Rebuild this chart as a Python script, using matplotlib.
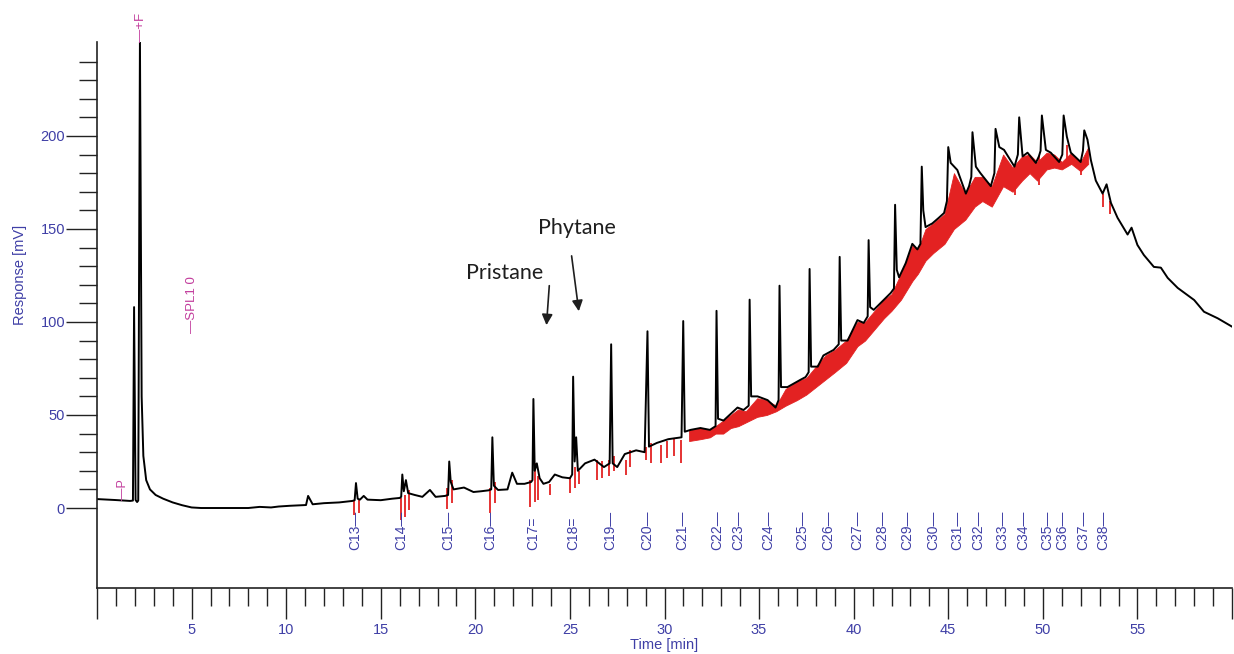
import matplotlib
matplotlib.use("Agg")
import matplotlib.pyplot as plt
import numpy as np

plt.rcParams['font.family'] = ['Liberation Sans', 'DejaVu Sans']

BLUE = '#3f3fa6'
PINK = '#c23c9c'
RED = '#e32222'

# chromatogram trace (time in min, response in mV)
time_min = [0, 0.95, 1.75, 1.90, 1.96, 2.04, 2.12, 2.18, 2.27, 2.36, 2.45, 2.6, 2.8, 3.1, 3.5,
            4.0, 4.5, 5.0, 5.5, 6.0, 8.0, 8.6, 9.2, 9.6, 10.2, 10.8, 11.05, 11.16, 11.4, 12.0,
            12.8, 13.5, 13.62, 13.69, 13.78, 13.9, 14.1, 14.3, 15.0, 15.6, 16.0, 16.08, 16.14,
            16.22, 16.33, 16.45, 16.8, 17.2, 17.6, 17.9, 18.4, 18.56, 18.62, 18.7, 18.85, 19.4,
            19.9, 20.3, 20.7, 20.84, 20.9, 20.98, 21.2, 21.7, 21.95, 22.2, 22.6, 22.95, 23.02,
            23.07, 23.14, 23.25, 23.4, 23.6, 23.9, 24.2, 24.6, 25.0, 25.12, 25.17, 25.25, 25.33,
            25.42, 25.8, 26.3, 26.8, 27.1, 27.18, 27.26, 27.5, 27.9, 28.5, 28.95, 29.1, 29.18,
            29.6, 30.2, 30.9, 30.99, 31.07, 31.38, 31.9, 32.4, 32.7, 32.75, 32.83, 33.12, 33.86,
            34.18, 34.45, 34.5, 34.58, 34.92, 35.45, 35.87, 36.03, 36.08, 36.16, 36.5, 37.2,
            37.46, 37.62, 37.67, 37.75, 38.1, 38.4, 38.94, 39.21, 39.26, 39.34, 39.68, 40.2,
            40.53, 40.74, 40.79, 40.87, 41.06, 41.6, 41.96, 42.13, 42.19, 42.28, 42.4, 42.75,
            43.1, 43.37, 43.53, 43.6, 43.68, 43.8, 44.16, 44.5, 44.78, 44.93, 45.0, 45.13,
            45.48, 45.93, 46.1, 46.22, 46.28, 46.46, 46.7, 47.25, 47.44, 47.5, 47.7, 47.95,
            48.5, 48.68, 48.75, 48.93, 49.19, 49.63, 49.79, 49.88, 49.95, 50.16, 50.42, 50.86,
            51.03, 51.1, 51.27, 51.48, 52.0, 52.12, 52.19, 52.36, 52.54, 52.8, 53.16, 53.37,
            53.6, 53.95, 54.48, 54.69, 55.0, 55.34, 55.87, 56.24, 56.6, 57.13, 58.0, 58.52,
            59.24, 60.0]
response_mv = [4.8, 4.3, 3.8, 4.0, 108, 4.3, 3.2, 4.0, 252, 60, 28, 15, 10, 7, 5,
               3, 1.5, 0.3, 0, 0, 0, 0.6, 0.3, 0.8, 1.2, 1.5, 1.6, 6.5, 2.0, 2.6,
               3.0, 3.8, 4.2, 13.4, 5.0, 4.5, 6.5, 4.5, 4.2, 5.0, 5.4, 6.0, 18.0,
               9.0, 15.0, 8.0, 7.0, 6.0, 9.7, 6.0, 6.5, 7.0, 25.0, 14.0, 10.0, 11.0,
               8.6, 9.0, 9.5, 10.0, 38.0, 12.0, 9.7, 10.0, 19.0, 13.0, 13.0, 14.0, 15.0,
               58.6, 20.0, 24.0, 16.0, 13.0, 14.0, 18.0, 16.5, 16.0, 18.0, 70.6, 25.0, 38.0,
               20.0, 24.0, 26.0, 22.0, 24.0, 88.0, 24.0, 22.0, 29.0, 31.0, 30.0, 95.0, 33.0,
               35.0, 37.0, 38.0, 100.5, 41.0, 42.0, 43.0, 42.0, 44.0, 106.0, 48.0, 47.0, 54.0,
               52.7, 55.0, 112.0, 60.0, 60.0, 58.0, 54.0, 58.0, 119.5, 65.0, 65.0, 69.0,
               70.4, 73.0, 128.5, 76.0, 76.0, 82.0, 85.0, 88.0, 135.0, 90.0, 90.0, 101.0,
               99.5, 103.0, 144.0, 108.0, 106.5, 112.0, 115.6, 118.0, 163.0, 128.0, 124.0, 131.6,
               142.0, 139.0, 142.0, 183.5, 160.0, 151.0, 153.0, 156.0, 158.6, 165.0, 194.0, 185.5,
               181.7, 169.0, 173.0, 178.0, 202.0, 183.5, 180.0, 173.0, 180.0, 203.8, 194.0, 192.5,
               183.5, 190.0, 210.0, 189.0, 191.0, 185.5, 189.0, 192.0, 211.0, 192.5, 191.0, 186.0,
               190.0, 211.0, 199.6, 191.0, 186.0, 192.0, 203.0, 198.0, 187.0, 176.0, 169.0, 174.0,
               164.0, 156.0, 147.0, 150.7, 141.4, 136.0, 129.6, 129.2, 123.7, 118.3, 111.8, 105.5,
               102.0, 97.5]

# red integration band in the hump region
band_t = [31.3, 31.9, 32.4, 32.7, 33.1, 33.5, 33.9, 34.3, 34.9, 35.4, 35.9, 36.4, 37.0, 37.5,
          38.0, 38.5, 39.0, 39.6, 40.2, 40.6, 41.1, 41.6, 42.0, 42.5, 43.1, 43.4, 43.8, 44.2,
          44.8, 45.3, 45.9, 46.4, 46.8, 47.3, 47.9, 48.4, 48.9, 49.3, 49.7, 50.2, 50.6, 51.0,
          51.5, 52.0, 52.4]
band_lo = [36, 37, 38, 40, 40, 43, 44, 46, 49, 50, 52, 55, 58, 61,
           65, 69, 73, 78, 87, 90, 96, 102, 106, 112, 122, 126, 133, 137,
           142, 150, 155, 162, 165, 162, 173, 170, 176, 180, 176, 182, 183, 182,
           185, 181, 185]
band_hi = [42, 43, 42, 44, 47, 50, 53, 52, 59, 58, 55, 64, 68, 70,
           76, 82, 85, 90, 100, 100, 106, 112, 115, 126, 141, 139, 150, 153,
           158, 180, 169, 178, 178, 173, 190, 183, 189, 190, 186, 191, 190, 186,
           191, 186, 194]

# isolated red spikes (time, low, high)
spike_t = [13.56, 13.83, 16.08, 16.3, 16.5, 18.5, 18.77, 20.8, 21.06, 22.9, 23.17, 23.33, 23.97,
           25.03, 25.29, 25.5, 26.44, 26.7, 27.05, 27.35, 27.94, 28.2, 29.0, 29.26, 29.79,
           30.14, 30.5, 30.85, 48.55, 49.79, 50.86, 51.3, 52.0, 53.2, 53.55]
spike_lo = [-3.8, -2.7, -6.5, -4.8, -1.0, -0.5, 2.7, -2.7, 2.7, 0.5, 3.0, 4.3, 7.0,
            8.0, 11.0, 13.0, 15.0, 16.0, 17.0, 20.0, 18.0, 22.0, 26.0, 24.0, 24.0,
            27.0, 28.0, 24.0, 168, 173.6, 183, 183.5, 179, 162, 158]
spike_hi = [4.3, 4.8, 5.4, 7.0, 9.7, 11.0, 15.0, 11.0, 14.0, 15.0, 24.0, 17.0, 13.0,
            16.5, 22.0, 20.0, 26.0, 25.0, 26.0, 28.0, 26.0, 31.0, 33.0, 35.0, 34.0,
            36.0, 37.0, 36.5, 183, 189, 186, 195, 186, 169, 165]

# n-alkane labels
alkane_names = ['C13', 'C14', 'C15', 'C16', 'C17', 'C18', 'C19', 'C20', 'C21', 'C22', 'C23',
                'C24', 'C25', 'C26', 'C27', 'C28', 'C29', 'C30', 'C31', 'C32', 'C33', 'C34',
                'C35', 'C36', 'C37', 'C38']
alkane_t = [13.64, 16.11, 18.58, 20.78, 23.07, 25.19, 27.13, 29.07, 30.92, 32.77, 33.92,
            35.50, 37.27, 38.67, 40.18, 41.50, 42.83, 44.23, 45.46, 46.61, 47.84, 48.99,
            50.22, 51.02, 52.16, 53.22]

fig = plt.figure(figsize=(12.34, 6.54), dpi=100)
ax = fig.add_axes([97 / 1234, 66 / 654, 1135 / 1234, 546 / 654])

ax.fill_between(band_t, band_lo, band_hi, color=RED, lw=0.6, zorder=1)
ax.vlines(spike_t, spike_lo, spike_hi, color=RED, lw=1.3, zorder=1)
ax.plot(time_min, response_mv, color='black', lw=1.4, zorder=2)

ax.set_xlim(0, 60)
ax.set_ylim(-43, 250.5)

for side in ['top', 'right']:
    ax.spines[side].set_visible(False)
for side in ['left', 'bottom']:
    ax.spines[side].set_color('#222222')
    ax.spines[side].set_linewidth(1.2)

ax.set_xticks(range(0, 61, 5))
ax.set_xticklabels([''] + [str(v) for v in range(5, 56, 5)] + [''])
ax.set_xticks(range(0, 61), minor=True)
ax.set_yticks(range(0, 201, 50))
ax.set_yticks(range(10, 241, 10), minor=True)
ax.tick_params(which='major', direction='out', length=22, width=1.0, color='#222222',
               labelcolor=BLUE, labelsize=10.5)
ax.tick_params(which='minor', direction='out', length=13, width=1.0, color='#222222')
ax.tick_params(axis='y', which='major', pad=1)
ax.tick_params(axis='x', which='major', pad=3)

fig.text(664 / 1234, 1 - 645 / 654, 'Time [min]', color=BLUE, fontsize=10.5,
         ha='center', va='center')
fig.text(20 / 1234, 1 - 275 / 654, 'Response [mV]', color=BLUE, fontsize=10.5,
         rotation=90, ha='center', va='center')

# peak labels
for name, t in zip(alkane_names, alkane_t):
    mark = '=' if name in ('C17', 'C18') else '\u2014'
    ax.text(t, -22.6, name + mark, color=BLUE, fontsize=10, rotation=90,
            rotation_mode='anchor', ha='left', va='center')

# event markers
ax.text(1.4, 4.5, '\u2014P', color=PINK, fontsize=9, rotation=90,
        rotation_mode='anchor', ha='left', va='center')
ax.text(2.31, 250.5, '\u2014+F', color=PINK, fontsize=9.5, rotation=90,
        rotation_mode='anchor', ha='left', va='center', clip_on=False)
ax.text(5.03, 94, '\u2014SPL1 0', color=PINK, fontsize=9.5, rotation=90,
        rotation_mode='anchor', ha='left', va='center')

# annotations
ax.text(21.55, 126.3, 'Pristane', fontsize=15.5, color='#1e1e1e', family=['Lato', 'DejaVu Sans'],
        ha='center', va='center')
ax.text(25.39, 150.5, 'Phytane', fontsize=15.5, color='#1e1e1e', family=['Lato', 'DejaVu Sans'],
        ha='center', va='center')
ax.annotate('', xy=(23.75, 96.8), xytext=(23.92, 121),
            arrowprops=dict(arrowstyle='-|>', color='#1e1e1e', lw=1.2, mutation_scale=16))
ax.annotate('', xy=(25.49, 104.3), xytext=(25.07, 137),
            arrowprops=dict(arrowstyle='-|>', color='#1e1e1e', lw=1.2, mutation_scale=16))

fig.savefig('out.png', dpi=100)
